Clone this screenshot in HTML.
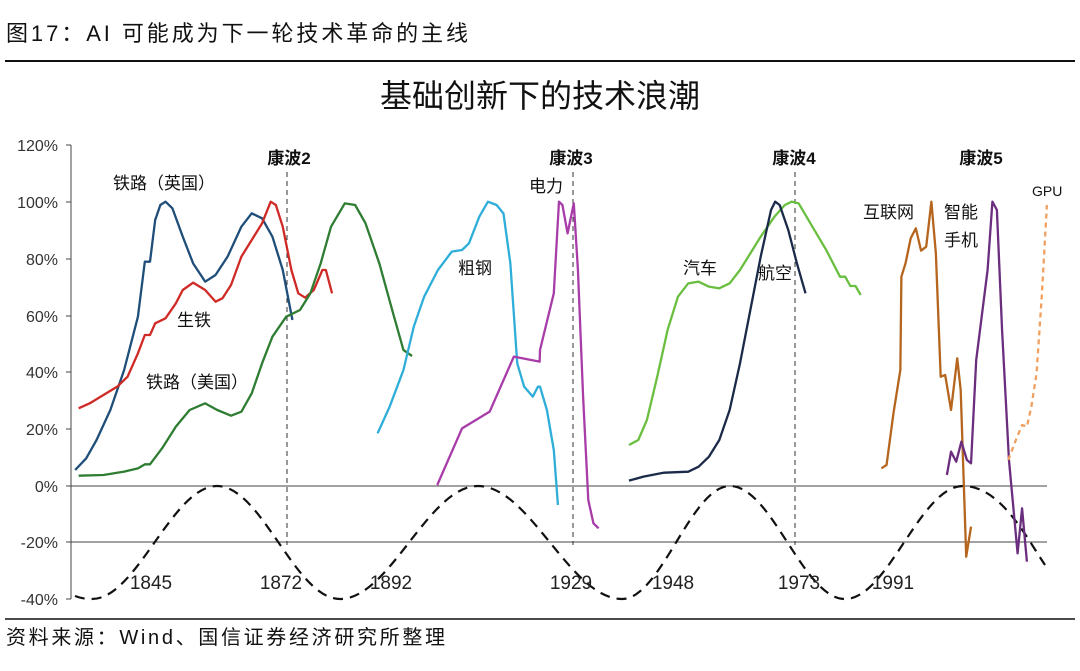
<!DOCTYPE html>
<html><head><meta charset="utf-8">
<style>
body{margin:0;background:#fff;width:1080px;height:671px;overflow:hidden;font-family:"Liberation Sans","Noto Sans CJK SC",sans-serif;}
svg{display:block}
</style></head><body>
<svg width="1080" height="671" viewBox="0 0 1080 671" xmlns="http://www.w3.org/2000/svg" font-family="Liberation Sans, Noto Sans CJK SC, sans-serif">
<text x="6" y="41" font-size="22" fill="#111" textLength="462" lengthAdjust="spacing">图17：AI 可能成为下一轮技术革命的主线</text>
<line x1="5" y1="61" x2="1075" y2="61" stroke="#111" stroke-width="2"/>
<text x="540" y="107" font-size="32" text-anchor="middle" fill="#111">基础创新下的技术浪潮</text>
<line x1="5" y1="619" x2="1075" y2="619" stroke="#111" stroke-width="1.5"/>
<text x="6" y="644" font-size="20" fill="#111" textLength="439" lengthAdjust="spacing">资料来源：Wind、国信证券经济研究所整理</text>

<g font-size="16" fill="#333" text-anchor="end">
<text x="58" y="151">120%</text><text x="58" y="208">100%</text><text x="58" y="265">80%</text>
<text x="58" y="322">60%</text><text x="58" y="378">40%</text><text x="58" y="435">20%</text>
<text x="58" y="492">0%</text><text x="58" y="548">-20%</text><text x="58" y="605">-40%</text>
</g>
<g stroke="#444" stroke-width="1">
<line x1="71" y1="145" x2="71" y2="599"/>
<line x1="66" y1="145" x2="71" y2="145"/><line x1="66" y1="202" x2="71" y2="202"/><line x1="66" y1="259" x2="71" y2="259"/>
<line x1="66" y1="316" x2="71" y2="316"/><line x1="66" y1="372" x2="71" y2="372"/><line x1="66" y1="429" x2="71" y2="429"/>
<line x1="66" y1="486" x2="71" y2="486"/><line x1="66" y1="542" x2="71" y2="542"/><line x1="66" y1="599" x2="71" y2="599"/>
<line x1="71" y1="486" x2="1047" y2="486"/><line x1="71" y1="542" x2="1047" y2="542"/>
</g>
<g stroke="#333" stroke-width="1" stroke-dasharray="5,4">
<line x1="287" y1="172" x2="287" y2="545"/><line x1="573" y1="172" x2="573" y2="545"/><line x1="795" y1="172" x2="795" y2="545"/>
</g>

<path d="M75,596 C80,598 85,599 92,599 C137,599 172,486 217,486 C262,486 295,599 340,599 C390,599 428,486 478,486 C530,486 570,599 622,599 C661,599 691,486 730,486 C772,486 803,599 845,599 C888,599 920,486 963,486 C1000,486 1025,535 1045,565" fill="none" stroke="#111" stroke-width="2.2" stroke-dasharray="10,7"/>

<g transform="translate(0,130) scale(0.344828,0.333333)" fill="none" stroke-width="2.3" stroke-linejoin="round">
<polyline vector-effect="non-scaling-stroke" stroke="#1f4e79" points="218,1020 250,985 280,930 320,840 360,720 400,560 420,395 435,395 450,270 465,225 480,215 500,235 530,320 560,400 595,455 625,435 660,380 700,290 730,250 760,265 790,320 820,420 848,570"/>
<polyline vector-effect="non-scaling-stroke" stroke="#d02a27" points="228,835 260,820 300,795 340,770 370,740 400,670 420,615 435,615 450,580 480,565 510,520 530,480 560,458 595,480 625,515 645,505 670,465 700,380 730,330 760,280 785,215 800,225 820,290 845,420 865,490 885,503 910,480 935,420 945,420 963,490"/>
<polyline vector-effect="non-scaling-stroke" stroke="#2e7d32" points="228,1037 300,1035 360,1025 400,1015 420,1003 435,1003 470,955 510,890 550,840 595,820 630,840 670,857 700,845 730,790 760,700 790,620 830,560 870,540 900,490 930,400 960,290 1000,220 1030,225 1060,280 1100,400 1140,550 1170,660 1195,678"/>
<polyline vector-effect="non-scaling-stroke" stroke="#2eaed8" points="1095,910 1130,830 1170,720 1200,590 1230,500 1270,420 1310,365 1340,360 1360,340 1390,260 1415,215 1440,225 1460,250 1480,400 1500,700 1520,770 1545,800 1560,770 1566,770 1586,840 1606,960 1618,1125"/>
<polyline vector-effect="non-scaling-stroke" stroke="#a83ca8" points="1268,1065 1340,895 1420,845 1490,680 1565,695 1566,660 1606,490 1621,215 1631,225 1646,310 1664,220 1676,420 1691,800 1706,1110 1721,1180 1736,1195"/>
<polyline vector-effect="non-scaling-stroke" stroke="#6abf40" points="1824,945 1851,930 1876,870 1906,740 1936,600 1966,500 1996,460 2026,455 2056,470 2086,475 2116,460 2146,420 2176,370 2206,320 2246,260 2276,225 2296,215 2316,220 2356,290 2396,360 2436,440 2451,440 2466,468 2481,468 2496,495"/>
<polyline vector-effect="non-scaling-stroke" stroke="#1b2a49" points="1824,1052 1866,1040 1926,1028 1996,1025 2026,1010 2056,980 2086,930 2116,840 2146,700 2176,540 2206,380 2236,240 2248,215 2261,225 2286,300 2311,400 2336,490"/>
<polyline vector-effect="non-scaling-stroke" stroke="#b5651d" points="2556,1015 2571,1005 2591,850 2611,720 2614,440 2626,400 2641,325 2656,295 2671,362 2686,350 2701,215 2714,370 2728,740 2741,735 2758,840 2776,685 2786,780 2802,1280 2816,1190"/>
<polyline vector-effect="non-scaling-stroke" stroke="#6b2d7e" points="2746,1035 2758,965 2773,995 2788,935 2804,990 2816,1000 2831,690 2864,420 2878,215 2891,240 2906,600 2926,990 2951,1270 2964,1135 2978,1295"/>
<polyline vector-effect="non-scaling-stroke" stroke="#f0a060" stroke-dasharray="5,4" points="2924,990 2946,930 2964,885 2978,890 2991,830 3006,730 3021,500 3036,225"/>
</g>

<g font-size="17" font-weight="bold" fill="#111" text-anchor="middle">
<text x="289" y="164">康波2</text><text x="571" y="164">康波3</text><text x="794" y="164">康波4</text><text x="981" y="164">康波5</text>
</g>
<g font-size="17" fill="#111">
<text x="113" y="189">铁路（英国）</text>
<text x="177" y="326">生铁</text>
<text x="146" y="388">铁路（美国）</text>
<text x="458" y="274">粗钢</text>
<text x="529" y="192">电力</text>
<text x="683" y="274">汽车</text>
<text x="758" y="279">航空</text>
<text x="863" y="218">互联网</text>
<text x="944" y="218">智能</text>
<text x="944" y="246">手机</text>
<text x="1032" y="196" font-size="14">GPU</text>
</g>
<g font-size="19" fill="#222" text-anchor="middle">
<text x="151" y="589">1845</text><text x="281" y="589">1872</text><text x="391" y="589">1892</text>
<text x="571" y="589">1929</text><text x="673" y="589">1948</text><text x="799" y="589">1973</text><text x="893" y="589">1991</text>
</g>
</svg>
</body></html>
